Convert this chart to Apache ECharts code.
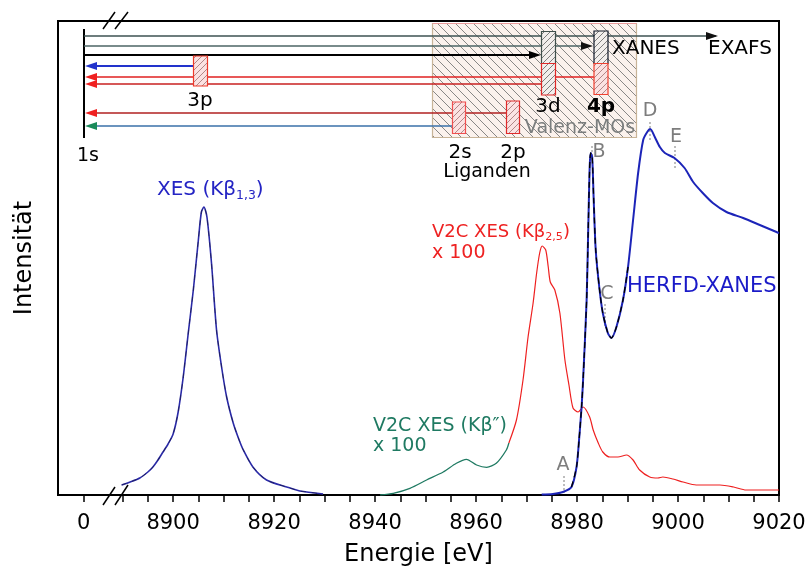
<!DOCTYPE html>
<html>
<head>
<meta charset="utf-8">
<script src="https://cdn.jsdelivr.net/npm/echarts@6/dist/echarts.min.js"></script>
<style>
  html, body { margin: 0; padding: 0; background: #fff; }
  #chart { width: 807px; height: 574px; }
</style>
</head>
<body>
<div id="chart"></div>
<script>
// energies in eV, intensities in arbitrary units
const xesE = [8889.8, 8891.5, 8893.4, 8895.0, 8896.0, 8897.0, 8898.0, 8899.0, 8900.0, 8901.0, 8902.0, 8903.0, 8904.0, 8905.0, 8905.6, 8906.1, 8906.7, 8907.6, 8908.6, 8909.6, 8910.6, 8911.9, 8913.0, 8913.9, 8915.8, 8918.5, 8922.5, 8925.1, 8929.7]
const xesI = [10, 13, 17, 23, 28, 35, 43, 51, 61, 83, 118, 162, 205, 255, 283, 288, 278, 232, 165, 128, 98, 72, 56, 45, 28, 15, 8, 4, 1]

const kbE = [8941.0, 8943.6, 8946.9, 8950.2, 8953.5, 8956.1, 8958.1, 8960.1, 8962.1, 8964.0, 8966.0, 8966.5]
const kbI = [0, 1.7, 6.7, 15, 23, 31.7, 35.7, 30, 27.7, 31.7, 45, 52]

const vtcE = [8966.5, 8968.0, 8969.3, 8970.3, 8971.3, 8972.0, 8972.6, 8973.1, 8973.8, 8974.3, 8974.7, 8975.6, 8976.6, 8977.6, 8978.4, 8979.2, 8980.2, 8981.2, 8982.5, 8983.2, 8984.2, 8985.1, 8986.5, 8988.1, 8989.8, 8991.1, 8992.4, 8994.4, 8996.0, 8997.0, 8999.0, 9001.0, 9003.6, 9006.0, 9008.3, 9011.0, 9013.5, 9016.5, 9020.0]
const vtcI = [52, 75, 115, 158, 192, 222, 242, 249, 245, 228, 213, 205, 182, 135, 110, 87, 83, 88, 78, 65, 52, 43, 38, 38, 40, 35, 25, 18, 17, 18, 16, 13, 10, 10, 10, 8, 5, 5, 5]

const herfdE = [8973.0, 8975.2, 8977.2, 8978.9, 8979.9, 8980.4, 8980.9, 8981.2, 8981.9, 8982.2, 8982.5, 8982.7, 8983.0, 8983.3, 8983.7, 8984.4, 8985.1, 8986.1, 8986.8, 8987.8, 8989.1, 8990.1, 8991.1, 8992.1, 8993.1, 8993.9, 8994.5, 8995.4, 8996.4, 8997.4, 8999.3, 9001.3, 9003.0, 9004.9, 9006.9, 9009.6, 9012.9, 9016.2, 9019.5, 9020.0]
const herfdI = [0.5, 1, 3, 8, 28, 55, 88, 115, 195, 262, 328, 342, 338, 295, 245, 208, 182, 162, 157, 168, 195, 228, 275, 322, 355, 363, 366, 358, 348, 342, 337, 327, 313, 302, 292, 283, 277, 270, 263, 262]

// broken axis: the "0" tick sits left of the break
const zeroPos = 8882.3
const tickValues = [zeroPos, 8890, 8895, 8900, 8905, 8910, 8915, 8920, 8925, 8930, 8935, 8940, 8945, 8950, 8955, 8960, 8965, 8970, 8975, 8980, 8985, 8990, 8995, 9000, 9005, 9010, 9015, 9020]
const labelValues = [zeroPos, 8900, 8920, 8940, 8960, 8980, 9000, 9020]

const FONT = 'DejaVu Sans'
const pair = (xs, ys) => xs.map((x, i) => [x, ys[i]])

function hatch(size, color, bg, dir, w) {
  const c = document.createElement('canvas')
  c.width = c.height = size
  const g = c.getContext('2d')
  if (bg) { g.fillStyle = bg; g.fillRect(0, 0, size, size) }
  g.strokeStyle = color
  g.lineWidth = w
  g.beginPath()
  if (dir > 0) {
    g.moveTo(0, size); g.lineTo(size, 0)
    g.moveTo(-1, 1); g.lineTo(1, -1)
    g.moveTo(size - 1, size + 1); g.lineTo(size + 1, size - 1)
  } else {
    g.moveTo(0, 0); g.lineTo(size, size)
    g.moveTo(size - 1, -1); g.lineTo(size + 1, 1)
    g.moveTo(-1, size - 1); g.lineTo(1, size + 1)
  }
  g.stroke()
  return { image: c, repeat: 'repeat' }
}

const ln = (x1, y1, x2, y2, color, w, dash) => ({
  type: 'line', silent: true,
  shape: { x1, y1, x2, y2 },
  style: { stroke: color, lineWidth: w || 1, lineDash: dash || null }
})
const arrowL = (x, y, color) => ({
  type: 'polygon', silent: true,
  shape: { points: [[x, y], [x + 12, y - 4], [x + 12, y + 4]] },
  style: { fill: color }
})
const arrowR = (x, y, color) => ({
  type: 'polygon', silent: true,
  shape: { points: [[x, y], [x - 12, y - 4], [x - 12, y + 4]] },
  style: { fill: color }
})
const box = (x, y, w, h, stroke, fill) => ({
  type: 'rect', silent: true,
  shape: { x, y, width: w, height: h },
  style: { stroke, lineWidth: 1.2, fill }
})
const txt = (x, y, s, size, color, align, weight) => ({
  type: 'text', silent: true, x, y,
  style: {
    text: s, fontSize: size, fill: color, fontFamily: FONT,
    fontWeight: weight || 'normal', align: align || 'center', verticalAlign: 'middle'
  }
})
const subTxt = (x, y, a, sub, b, size, color, align) => ({
  type: 'text', silent: true, x, y,
  style: {
    text: '{a|' + a + '}{s|' + sub + '}{a|' + b + '}',
    align: align || 'left', verticalAlign: 'middle',
    rich: {
      a: { fontSize: size, lineHeight: size + 4, fill: color, fontFamily: FONT },
      s: { fontSize: size * 0.62, lineHeight: size * 0.62, fill: color, fontFamily: FONT, verticalAlign: 'bottom' }
    }
  }
})

const bigHatch = hatch(9, '#7a7a7a', 'rgba(250,236,230,0.7)', -1, 0.9)
const redHatch = hatch(6, '#a07070', '#fbe2e2', 1, 0.8)
const grayHatch = hatch(6, '#606060', '#f2eeec', 1, 0.8)
const GRAY = '#7d7d7d'

const graphics = [
  // energy level scheme
  box(432.5, 23.5, 204, 114, '#c8b498', bigHatch),
  ln(432.5, 23.5, 636.5, 23.5, '#e89a9a', 1.2),
  ln(84, 29, 84, 138, '#000', 2),
  ln(84, 36, 716, 36, '#3c5252', 1.3),
  arrowR(718, 36, '#111'),
  ln(84, 46, 590, 46, '#4d6464', 1.3),
  arrowR(593, 46, '#111'),
  ln(84, 55, 538, 55, '#000', 1.8),
  arrowR(541, 55, '#000'),
  ln(96, 66, 193, 66, '#2233cc', 1.8),
  arrowL(85, 66, '#2233cc'),
  ln(96, 77, 594, 77, '#e02020', 1.3),
  arrowL(85, 77, '#f02020'),
  ln(96, 84, 541, 84, '#c82020', 1.3),
  arrowL(85, 84, '#f02020'),
  ln(96, 113, 507, 113, '#b02020', 1.3),
  arrowL(85, 113, '#f02020'),
  ln(96, 126, 452, 126, '#3a70a8', 1.5),
  arrowL(85, 126, '#1a8a5a'),
  box(193.5, 56, 14, 30, '#ee3a2a', redHatch),
  box(541.5, 31.5, 14, 32, '#40504c', grayHatch),
  box(541.5, 63.5, 14, 31.5, '#e02828', grayHatch),
  box(594, 31, 14, 32.5, '#101828', grayHatch),
  box(594, 63.5, 14, 31, '#f04030', redHatch),
  box(452.5, 102, 13, 31.5, '#f05050', redHatch),
  box(506.5, 101, 13, 32.5, '#e02a2a', redHatch),
  txt(88, 156, '1s', 19, '#000'),
  txt(200, 101, '3p', 20, '#000'),
  txt(548, 107, '3d', 20, '#000'),
  txt(601, 107, '4p', 20, '#000', 'center', 'bold'),
  txt(580, 128, 'Valenz-MOs', 19, '#7b7e7e'),
  txt(460, 153, '2s', 20, '#000'),
  txt(513, 153, '2p', 20, '#000'),
  txt(487, 172, 'Liganden', 19, '#000'),
  txt(612, 49, 'XANES', 20, '#000', 'left'),
  txt(708, 49, 'EXAFS', 20, '#000', 'left'),
  // axis break marks
  ln(103, 29, 115, 12, '#000', 1.5),
  ln(115, 29, 128, 12, '#000', 1.5),
  ln(103, 505, 115, 487, '#000', 1.5),
  ln(115, 505, 128, 485, '#000', 1.5),
  // curve labels
  subTxt(157, 190, 'XES (Kβ', '1,3', ')', 20, '#2424c4'),
  subTxt(432, 232, 'V2C XES (Kβ', '2,5', ')', 18, '#ee2222'),
  txt(432, 253, 'x 100', 19, '#ee2222', 'left'),
  txt(373, 426, 'V2C XES (Kβ\u2033)', 19, '#1f7a62', 'left'),
  txt(373, 446, 'x 100', 19, '#1f7a62', 'left'),
  txt(627, 287, 'HERFD-XANES', 21, '#1a1ac8', 'left'),
  // feature letters
  txt(563, 465, 'A', 19, GRAY),
  ln(564, 476, 564, 493, GRAY, 1, [2, 2]),
  txt(599, 152, 'B', 19, GRAY),
  ln(592, 146, 592, 158, GRAY, 1, [2, 2]),
  txt(607, 294, 'C', 19, GRAY),
  ln(605, 304, 605, 327, GRAY, 1, [2, 2]),
  txt(650, 111, 'D', 19, GRAY),
  ln(650, 122, 650, 141, GRAY, 1, [2, 2]),
  txt(676, 137, 'E', 19, GRAY),
  ln(675, 146, 675, 168, GRAY, 1, [2, 2])
]

const chart = echarts.init(document.getElementById('chart'))
const option = {
  animation: false,
  backgroundColor: '#fff',
  grid: {
    left: 58, right: 28, top: 21, bottom: 79,
    show: true, borderColor: '#000', borderWidth: 2,
    outerBoundsMode: 'none'
  },
  xAxis: {
    type: 'value',
    min: 8877.2, max: 9020,
    name: 'Energie [eV]',
    nameLocation: 'middle',
    nameGap: 48,
    nameTextStyle: { fontSize: 24, fontFamily: FONT, color: '#000' },
    axisLine: { show: false },
    axisTick: { show: true, length: 7, lineStyle: { color: '#000', width: 1.5 }, customValues: tickValues },
    axisLabel: {
      fontSize: 21, fontFamily: FONT, color: '#000', margin: 18,
      customValues: labelValues,
      formatter: v => (v < 8885 ? '0' : String(Math.round(v)))
    },
    splitLine: { show: false }
  },
  yAxis: {
    type: 'value',
    min: 0, max: 474,
    name: 'Intensität',
    nameLocation: 'middle',
    nameGap: 21,
    nameTextStyle: { fontSize: 24, fontFamily: FONT, color: '#000' },
    axisLine: { show: false },
    axisTick: { show: false },
    axisLabel: { show: false },
    splitLine: { show: false }
  },
  graphic: graphics,
  series: [
    {
      name: 'XES Kβ1,3', type: 'line', data: pair(xesE, xesI),
      showSymbol: false, smooth: 0.25,
      lineStyle: { color: '#2a2aa8', width: 1.6 }
    },
    {
      name: 'XES Kβ1,3 fit', type: 'line', data: pair(xesE, xesI),
      showSymbol: false, smooth: 0.25,
      lineStyle: { color: '#111', width: 1, type: [5, 6], opacity: 0.45 }
    },
    {
      name: 'V2C Kβ″', type: 'line', data: pair(kbE, kbI),
      showSymbol: false, smooth: 0.25,
      lineStyle: { color: '#1f7a62', width: 1.3 }
    },
    {
      name: 'V2C Kβ2,5', type: 'line', data: pair(vtcE, vtcI),
      showSymbol: false, smooth: 0.25,
      lineStyle: { color: '#ee2020', width: 1.2 }
    },
    {
      name: 'HERFD-XANES', type: 'line', data: pair(herfdE, herfdI),
      showSymbol: false, smooth: 0.25,
      lineStyle: { color: '#1c24b8', width: 2 }
    },
    {
      name: 'HERFD fit', type: 'line',
      data: pair(herfdE, herfdI).filter(p => p[0] >= 8978.9 && p[0] <= 8990.1),
      showSymbol: false, smooth: 0.25,
      lineStyle: { color: '#000', width: 1.3, type: [6, 4] }
    }
  ]
}
chart.setOption(option)
</script>
</body>
</html>
